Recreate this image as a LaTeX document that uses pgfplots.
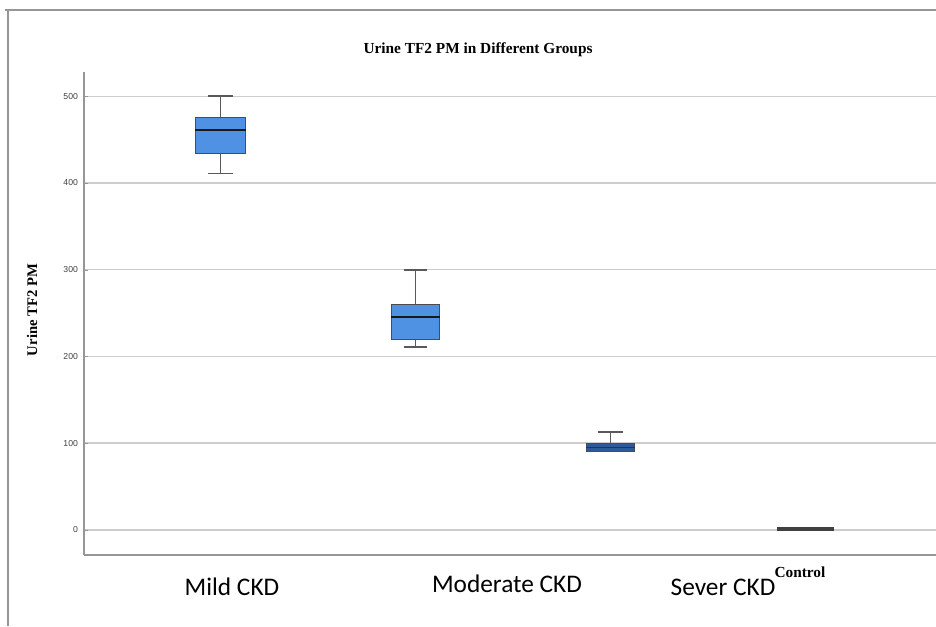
\documentclass[border=0pt]{standalone}
\usepackage{pgfplots}
\pgfplotsset{compat=1.18}
\usepgfplotslibrary{statistics}
\usepackage{fontspec}
\setmainfont{Liberation Serif}
\newfontfamily\tickfont{Liberation Sans}
\newfontfamily\labfont{Carlito}

\definecolor{boxblue}{RGB}{79,146,227}
\definecolor{boxdark}{RGB}{46,90,156}
\definecolor{gridgray}{RGB}{205,205,205}
\definecolor{axgray}{RGB}{150,150,150}

\begin{document}
\begin{tikzpicture}
% 1px = 0.75pt, canvas 936x626 px
\path[use as bounding box] (0,0) rectangle (702pt,469.5pt);
\draw[axgray, line width=0.8pt] (3.75pt,462pt) -- (702pt,462pt);
\draw[axgray, line width=0.8pt] (6pt,462pt) -- (6pt,0pt);

\begin{axis}[
  at={(63pt,53.25pt)}, anchor=south west,
  scale only axis,
  width=639pt, height=362.25pt,
  xmin=-0.70, xmax=3.67,
  ymin=-29, ymax=528,
  axis x line*=bottom, axis y line*=left,
  axis line style={axgray, line width=0.8pt, -},
  xtick=\empty,
  ytick={0,100,200,300,400,500},
  ymajorgrids=true,
  grid style={gridgray, line width=1.1pt},
  major tick length=3pt,
  tick style={axgray},
  yticklabel style={font=\tickfont\fontsize{6.5}{7}\selectfont, text=black!75, xshift=-1pt},
  /pgf/number format/assume math mode=true,
  boxplot/draw direction=y,
  clip=false,
]
\addplot+[mark=none, fill=boxblue, draw=black!70, line width=0.6pt,
  boxplot prepared={draw position=0, lower whisker=411, lower quartile=434,
    median=461, upper quartile=476, upper whisker=500,
    box extend=0.26, whisker extend=0.13,
    every whisker/.style={line width=1.2pt, black!65},
    every median/.style={line width=1.6pt, black!90}}]
  coordinates {};
\addplot+[mark=none, fill=boxblue, draw=black!70, line width=0.6pt,
  boxplot prepared={draw position=1, lower whisker=211, lower quartile=220,
    median=245, upper quartile=260, upper whisker=300,
    box extend=0.25, whisker extend=0.12,
    every whisker/.style={line width=1.2pt, black!65},
    every median/.style={line width=1.6pt, black!90}}]
  coordinates {};
\addplot+[mark=none, fill=boxdark, draw=black!70, line width=0.6pt,
  boxplot prepared={draw position=2, lower whisker=91, lower quartile=91,
    median=95, upper quartile=100, upper whisker=113,
    box extend=0.25, whisker extend=0.13,
    every whisker/.style={line width=1.2pt, black!65},
    every median/.style={line width=1.2pt, black!80}}]
  coordinates {};
\addplot+[mark=none, fill=black!70, draw=black!70,
  boxplot prepared={draw position=3, lower whisker=1, lower quartile=1,
    median=1, upper quartile=1, upper whisker=1,
    box extend=0.29, whisker extend=0.29,
    every box/.style={line width=2.4pt, black!70},
    every whisker/.style={line width=2.4pt, black!70},
    every median/.style={line width=2.4pt, black!75}}]
  coordinates {};
\end{axis}

\node[font=\bfseries\fontsize{11.5}{13}\selectfont] at (358.5pt,432pt) {Urine TF2 PM in Different Groups};
\node[font=\bfseries\fontsize{11}{13}\selectfont, rotate=90] at (24pt,237pt) {Urine TF2 PM};
\node[font=\labfont\fontsize{19}{22}\selectfont] at (174pt,29.25pt) {Mild CKD};
\node[font=\labfont\fontsize{19}{22}\selectfont] at (380.25pt,31.5pt) {Moderate CKD};
\node[font=\labfont\fontsize{19}{22}\selectfont] at (542.25pt,29.25pt) {Sever CKD};
\node[font=\bfseries\fontsize{11.5}{13}\selectfont] at (600pt,40.5pt) {Control};
\end{tikzpicture}
\end{document}
